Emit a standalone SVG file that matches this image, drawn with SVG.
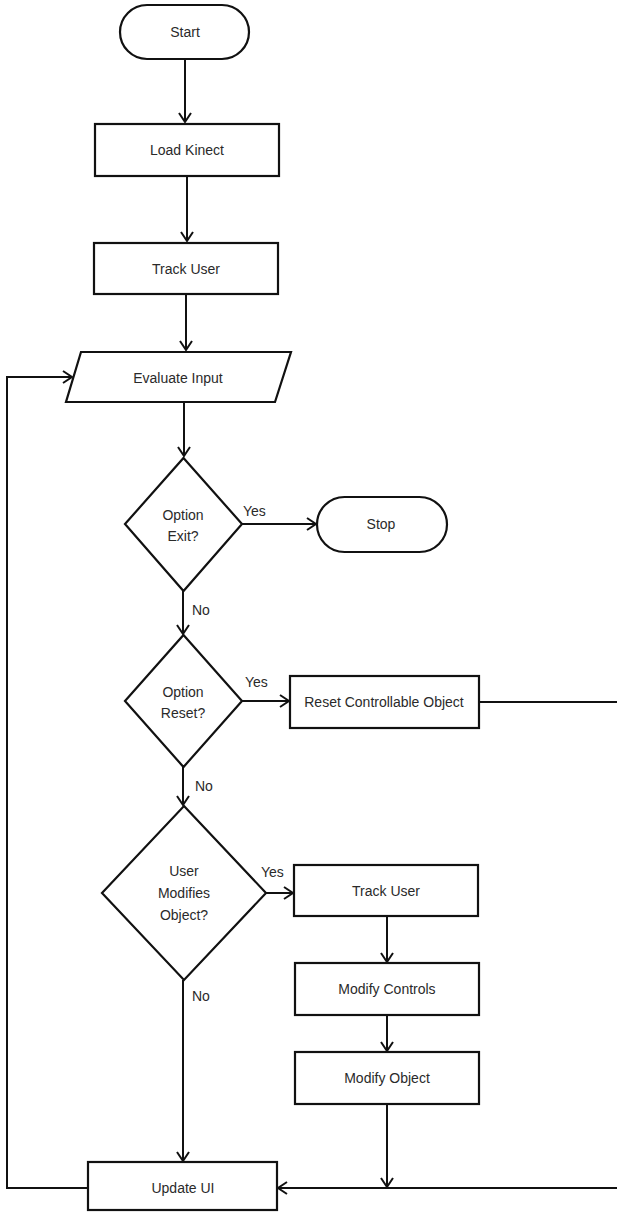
<svg xmlns="http://www.w3.org/2000/svg" width="617" height="1212" viewBox="0 0 617 1212">
<style>
.s{fill:#fff;stroke:#111;stroke-width:2.2}
.c{fill:none;stroke:#111;stroke-width:2}
text{font-family:"Liberation Sans",Arial,sans-serif;font-size:14px;fill:#2a2a2a;text-anchor:middle}
.l{text-anchor:start}
</style>
<defs>
<marker id="a" markerUnits="userSpaceOnUse" markerWidth="14" markerHeight="14" refX="11" refY="7" orient="auto">
<path d="M2,1 L11,7 L2,13" fill="none" stroke="#111" stroke-width="2"/>
</marker>
</defs>
<g id="connectors">
<path class="c" d="M185,59 V122" marker-end="url(#a)"/>
<path class="c" d="M187,176 V241" marker-end="url(#a)"/>
<path class="c" d="M186,294 V350" marker-end="url(#a)"/>
<path class="c" d="M184,402 V456" marker-end="url(#a)"/>
<path class="c" d="M242,524 H316" marker-end="url(#a)"/>
<path class="c" d="M183,591 V634" marker-end="url(#a)"/>
<path class="c" d="M242,701 H289" marker-end="url(#a)"/>
<path class="c" d="M479,702 H617"/>
<path class="c" d="M183,767 V805" marker-end="url(#a)"/>
<path class="c" d="M266,893 H293" marker-end="url(#a)"/>
<path class="c" d="M387,916 V962" marker-end="url(#a)"/>
<path class="c" d="M387,1015 V1051" marker-end="url(#a)"/>
<path class="c" d="M387,1104 V1187" marker-end="url(#a)"/>
<path class="c" d="M617,1188 H278" marker-end="url(#a)"/>
<path class="c" d="M183,980 V1161" marker-end="url(#a)"/>
<path class="c" d="M88,1188 H7 V377 H72" marker-end="url(#a)"/>
<text class="l" x="243" y="516">Yes</text>
<text class="l" x="192" y="615">No</text>
<text class="l" x="245" y="687">Yes</text>
<text class="l" x="195" y="791">No</text>
<text class="l" x="261" y="877">Yes</text>
<text class="l" x="192" y="1001">No</text>
</g>
<g id="start">
<rect class="s" x="120" y="5" width="129" height="54" rx="27"/>
<text x="185" y="37">Start</text>
</g>
<g id="load-kinect">
<rect class="s" x="95" y="124" width="184" height="52"/>
<text x="187" y="155">Load Kinect</text>
</g>
<g id="track-user-1">
<rect class="s" x="94" y="243" width="184" height="51"/>
<text x="186" y="274">Track User</text>
</g>
<g id="evaluate-input">
<polygon class="s" points="81,352 291,352 275,402 66,402"/>
<text x="178" y="383">Evaluate Input</text>
</g>
<g id="option-exit">
<polygon class="s" points="183.5,458 242,524 183.5,591 125,524"/>
<text x="183" y="520">Option</text>
<text x="183" y="541">Exit?</text>
</g>
<g id="stop">
<rect class="s" x="317" y="497" width="130" height="55" rx="27.5"/>
<text x="381" y="529">Stop</text>
</g>
<g id="option-reset">
<polygon class="s" points="183.5,635 242,701 183.5,767 125,701"/>
<text x="183" y="697">Option</text>
<text x="183" y="718">Reset?</text>
</g>
<g id="reset-object">
<rect class="s" x="290" y="676" width="189" height="52"/>
<text x="384" y="707">Reset Controllable Object</text>
</g>
<g id="user-modifies">
<polygon class="s" points="184,806 266,893 184,980 102,893"/>
<text x="184" y="876">User</text>
<text x="184" y="898">Modifies</text>
<text x="184" y="920">Object?</text>
</g>
<g id="track-user-2">
<rect class="s" x="294" y="865" width="184" height="51"/>
<text x="386" y="896">Track User</text>
</g>
<g id="modify-controls">
<rect class="s" x="295" y="963" width="184" height="52"/>
<text x="387" y="994">Modify Controls</text>
</g>
<g id="modify-object">
<rect class="s" x="295" y="1052" width="184" height="52"/>
<text x="387" y="1083">Modify Object</text>
</g>
<g id="update-ui">
<rect class="s" x="88" y="1162" width="189" height="48"/>
<text x="183" y="1193">Update UI</text>
</g>
</svg>
